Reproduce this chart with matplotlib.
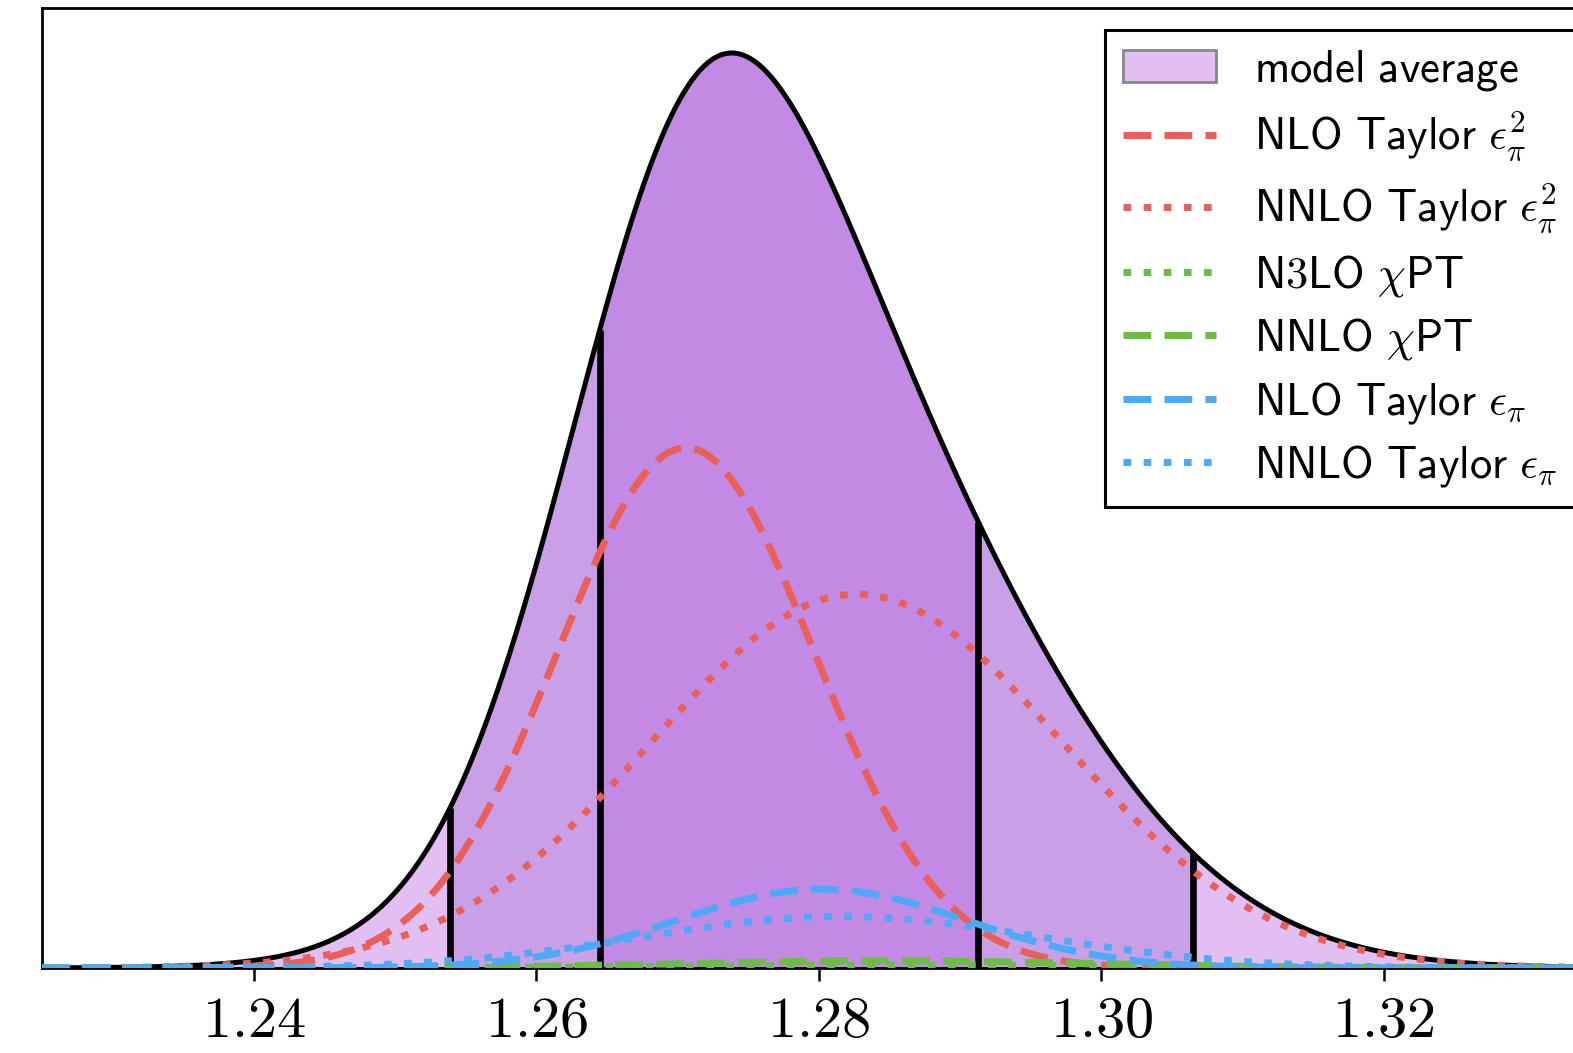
# distribuzione media dei modelli e contributi dei singoli fit
import numpy as np
import matplotlib
matplotlib.use('Agg')
import matplotlib.pyplot as plt
from matplotlib.patches import Patch

plt.rcParams['mathtext.fontset'] = 'cm'

# etichette dei modelli (ordine della legenda)
etichette = [r'$\mathsf{NLO\ Taylor}\ \epsilon_\pi^2$',
             r'$\mathsf{NNLO\ Taylor}\ \epsilon_\pi^2$',
             r'$\mathsf{N3LO}\ \chi\mathsf{PT}$',
             r'$\mathsf{NNLO}\ \chi\mathsf{PT}$',
             r'$\mathsf{NLO\ Taylor}\ \epsilon_\pi$',
             r'$\mathsf{NNLO\ Taylor}\ \epsilon_\pi$']
# media, sigma e peso di ogni modello
medie = [1.2706, 1.2827, 1.2870, 1.2850, 1.2802, 1.2816]
sigme = [0.0091, 0.0145, 0.0160, 0.0150, 0.0102, 0.0140]
pesi = [0.400, 0.458, 0.004, 0.009, 0.068, 0.061]
colori = ['#ea5f57', '#ea5f57', '#6cbd45', '#6cbd45', '#4ba9f5', '#4ba9f5']
stili = ['--', ':', ':', '--', '--', ':']

# estremi degli intervalli al 68% e al 95%
int_68 = [1.2645, 1.2913]
int_95 = [1.2539, 1.3065]

tick_pos = [1.24, 1.26, 1.28, 1.30, 1.32]
tick_lab = [r'$1.24$', r'$1.26$', r'$1.28$', r'$1.30$', r'$1.32$']

xmin, xmax = 1.2250, 1.3351


def gauss(x, m, s):
    return np.exp(-0.5 * ((x - m) / s) ** 2) / (s * np.sqrt(2 * np.pi))


x = np.linspace(xmin, xmax, 2000)
componenti = [w * gauss(x, m, s) for m, s, w in zip(medie, sigme, pesi)]
media = np.sum(componenti, axis=0)

fig = plt.figure(figsize=(15.73, 10.53), dpi=100)
ax = fig.add_axes([41.7 / 1573, 85 / 1053, 1555.3 / 1573, 960.5 / 1053])

# riempimenti: tutto, 95%, 68%
ax.fill_between(x, 0, media, color='#e2bff3', lw=0, zorder=1)
m95 = (x >= int_95[0]) & (x <= int_95[1])
ax.fill_between(x[m95], 0, media[m95], color='#c9a0e8', lw=0, zorder=1)
m68 = (x >= int_68[0]) & (x <= int_68[1])
ax.fill_between(x[m68], 0, media[m68], color='#c28ae4', lw=0, zorder=1)

ax.plot(x, media, color='black', lw=3.6, zorder=2)

# linee verticali agli estremi degli intervalli
for xv in int_95 + int_68:
    ax.plot([xv, xv], [0, np.interp(xv, x, media)], color='black', lw=4.8,
            solid_capstyle='butt', zorder=3)

handles = [Patch(facecolor='#e2bff3', edgecolor='#888888', lw=2,
                 label=r'$\mathsf{model\ average}$')]
for c, col, st, lab in zip(componenti, colori, stili, etichette):
    if st == '--':
        dash = (4.0, 1.9)
    else:
        dash = (1.1, 1.8)
    ln, = ax.plot(x, c, color=col, lw=5.0, linestyle=(0, dash), label=lab,
                  zorder=4)
    handles.append(ln)

ax.set_xlim(xmin, xmax)
ax.set_ylim(0, media.max() * 1.0497)
ax.set_yticks([])
ax.set_xticks(tick_pos)
ax.set_xticklabels(tick_lab, fontsize=42)
ax.tick_params(axis='x', length=9, width=1.8, pad=8)
for sp in ax.spines.values():
    sp.set_linewidth(2.0)

leg = ax.legend(handles=handles, loc='upper right', fontsize=32,
                fancybox=False, edgecolor='black', framealpha=1,
                handlelength=2.1, handletextpad=0.85, labelspacing=0.39,
                borderpad=0.4)
leg.get_frame().set_linewidth(2.2)

fig.savefig('out.png', dpi=100)
